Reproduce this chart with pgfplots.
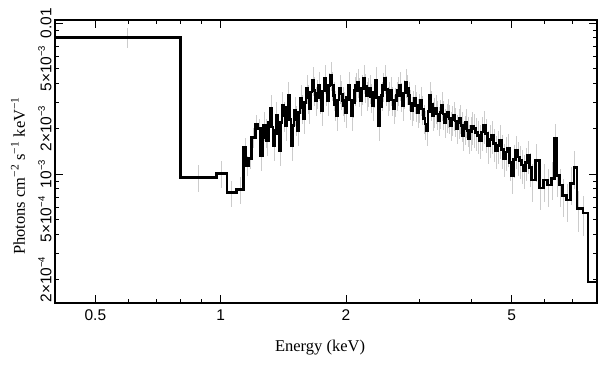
\documentclass[border=0pt]{standalone}
\usepackage{fontspec}
\setmainfont{Liberation Serif}
\newfontfamily\hv{Liberation Sans}
\usepackage{pgfplots}
\pgfplotsset{compat=1.18}
\usepackage{pgfplotstable}
\usetikzlibrary{calc}
\newcommand{\sps}[1]{\raisebox{0.42em}{\fontsize{9.5}{10}\selectfont #1}}
\pgfplotstableread{
x y xc e
0.4 8.076e-3 0.597 0.15
0.8 0.951e-3 0.884 0.2
0.976 1.011e-3 1.005 0.2
1.036 0.756e-3 1.063 0.2
1.091 0.792e-3 1.113 0.2
1.136 1.510e-3 1.143 0.15
1.150 1.147e-3 1.159 0.15
1.168 1.276e-3 1.178 0.15
1.188 1.758e-3 1.200 0.15
1.212 2.143e-3 1.220 0.15
1.228 2.017e-3 1.238 0.15
1.248 1.336e-3 0 0.22
1.258 1.75e-3 0 0.22
1.269 2.111e-3 0 0.22
1.280 1.90e-3 0 0.22
1.291 1.680e-3 0 0.22
1.302 2.20e-3 0 0.22
1.313 2.736e-3 0 0.22
1.324 2.05e-3 0 0.22
1.335 1.556e-3 0 0.22
1.346 1.95e-3 0 0.22
1.357 2.459e-3 0 0.22
1.368 1.85e-3 0 0.22
1.380 1.442e-3 0 0.22
1.391 2.20e-3 0 0.22
1.403 2.864e-3 0 0.22
1.415 2.45e-3 0 0.22
1.427 2.111e-3 0 0.22
1.438 2.75e-3 0 0.22
1.450 3.336e-3 0 0.22
1.462 2.30e-3 0 0.22
1.475 1.556e-3 0 0.22
1.487 2.10e-3 0 0.22
1.500 2.653e-3 0 0.22
1.512 2.30e-3 0 0.22
1.525 1.956e-3 0 0.22
1.537 2.55e-3 0 0.22
1.550 3.187e-3 0 0.22
1.563 2.75e-3 0 0.22
1.576 2.349e-3 0 0.22
1.589 3.00e-3 0 0.22
1.603 3.711e-3 0 0.22
1.616 3.20e-3 0 0.22
1.629 2.736e-3 0 0.22
1.643 3.50e-3 0 0.22
1.657 4.193e-3 0 0.22
1.671 3.60e-3 0 0.22
1.685 3.091e-3 0 0.22
1.699 3.45e-3 0 0.22
1.713 3.886e-3 0 0.22
1.727 3.20e-3 0 0.22
1.742 2.653e-3 0 0.22
1.756 3.55e-3 0 0.22
1.771 4.322e-3 0 0.22
1.785 3.60e-3 0 0.22
1.800 3.091e-3 0 0.22
1.815 3.85e-3 0 0.22
1.831 4.525e-3 0 0.22
1.846 3.90e-3 0 0.22
1.862 3.336e-3 0 0.22
1.877 2.90e-3 0 0.22
1.893 2.459e-3 0 0.22
1.908 3.10e-3 0 0.22
1.924 3.711e-3 0 0.22
1.940 3.40e-3 0 0.22
1.957 3.091e-3 0 0.22
1.973 2.85e-3 0 0.22
1.990 2.574e-3 0 0.22
2.006 3.20e-3 0 0.22
2.023 3.886e-3 0 0.22
2.040 3.10e-3 0 0.22
2.057 2.459e-3 0 0.22
2.074 3.00e-3 0 0.22
2.092 3.600e-3 0 0.22
2.109 3.85e-3 0 0.22
2.127 4.068e-3 0 0.22
2.144 3.55e-3 0 0.22
2.162 3.091e-3 0 0.22
2.180 3.70e-3 0 0.22
2.199 4.322e-3 0 0.22
2.217 3.80e-3 0 0.22
2.236 3.336e-3 0 0.22
2.254 3.55e-3 0 0.22
2.273 3.711e-3 0 0.22
2.292 3.25e-3 0 0.22
2.312 2.864e-3 0 0.22
2.331 3.50e-3 0 0.22
2.350 4.193e-3 0 0.22
2.370 3.20e-3 0 0.22
2.390 2.111e-3 0 0.22
2.410 2.80e-3 0 0.22
2.430 3.336e-3 0 0.22
2.450 3.85e-3 0 0.22
2.471 4.322e-3 0 0.22
2.491 3.65e-3 0 0.22
2.512 3.091e-3 0 0.22
2.533 3.35e-3 0 0.22
2.554 3.600e-3 0 0.22
2.575 3.10e-3 0 0.22
2.597 2.736e-3 0 0.22
2.619 3.05e-3 0 0.22
2.641 3.336e-3 0 0.22
2.663 3.60e-3 0 0.22
2.685 3.886e-3 0 0.22
2.707 3.30e-3 0 0.22
2.730 2.864e-3 0 0.22
2.753 3.45e-3 0 0.22
2.776 4.068e-3 0 0.22
2.799 3.70e-3 0 0.22
2.822 3.336e-3 0 0.22
2.846 2.95e-3 0 0.22
2.870 2.653e-3 0 0.22
2.894 2.90e-3 0 0.22
2.918 3.187e-3 0 0.22
2.942 2.85e-3 0 0.22
2.967 2.574e-3 0 0.22
2.991 2.80e-3 0 0.22
3.016 3.091e-3 0 0.22
3.041 2.70e-3 0 0.22
3.067 2.349e-3 0 0.22
3.093 2.15e-3 0 0.22
3.119 1.956e-3 0 0.22
3.145 2.60e-3 0 0.22
3.171 3.336e-3 0 0.22
3.197 2.90e-3 0 0.22
3.224 2.459e-3 0 0.22
3.251 2.60e-3 0 0.22
3.278 2.736e-3 0 0.22
3.305 2.50e-3 0 0.22
3.333 2.278e-3 0 0.22
3.361 2.55e-3 0 0.22
3.389 2.864e-3 0 0.22
3.417 2.50e-3 0 0.22
3.446 2.210e-3 0 0.22
3.475 2.40e-3 0 0.22
3.504 2.574e-3 0 0.22
3.533 2.35e-3 0 0.22
3.563 2.111e-3 0 0.22
3.592 2.30e-3 0 0.22
3.622 2.459e-3 0 0.22
3.652 2.25e-3 0 0.22
3.683 2.017e-3 0 0.22
3.714 2.20e-3 0 0.22
3.745 2.349e-3 0 0.22
3.776 2.10e-3 0 0.22
3.808 1.812e-3 0 0.22
3.840 2.00e-3 0 0.22
3.872 2.210e-3 0 0.22
3.904 1.95e-3 0 0.22
3.937 1.731e-3 0 0.22
3.970 1.90e-3 0 0.25
4.003 2.079e-3 0 0.25
4.048 2.00e-3 0 0.25
4.093 1.897e-3 0 0.25
4.139 1.80e-3 0 0.25
4.185 1.680e-3 0 0.25
4.232 1.90e-3 0 0.25
4.279 2.111e-3 0 0.25
4.327 1.85e-3 0 0.25
4.375 1.556e-3 0 0.25
4.424 1.70e-3 0 0.25
4.473 1.812e-3 0 0.25
4.523 1.60e-3 0 0.25
4.573 1.442e-3 0 0.25
4.624 1.55e-3 0 0.25
4.676 1.680e-3 0 0.25
4.728 1.45e-3 0 0.25
4.781 1.276e-3 0 0.25
4.834 1.40e-3 0 0.25
4.888 1.486e-3 0 0.25
4.943 1.20e-3 0 0.25
4.998 0.985e-3 0 0.25
5.054 1.25e-3 0 0.25
5.110 1.442e-3 0 0.25
5.167 1.30e-3 0 0.25
5.225 1.238e-3 0 0.25
5.283 1.15e-3 0 0.25
5.342 1.063e-3 0 0.25
5.402 1.20e-3 0 0.25
5.462 1.336e-3 0 0.25
5.523 1.10e-3 0 0.25
5.585 0.913e-3 0 0.28
5.710 1.238e-3 0 0.28
5.839 0.808e-3 0 0.28
5.970 0.913e-3 0 0.28
6.103 0.846e-3 0 0.28
6.241 0.941e-3 0 0.28
6.346 1.731e-3 0 0.25
6.415 0.985e-3 0 0.28
6.523 0.846e-3 0 0.28
6.633 0.726e-3 0 0.28
6.782 0.673e-3 0 0.28
6.934 0.872e-3 0 0.28
7.051 1.113e-3 0 0.28
7.170 0.595e-3 0 0.3
7.412 0.552e-3 0 0.3
7.620 0.193e-3 0 0
8.200 0.193e-3 0 0
}\spec
\begin{document}
\begin{tikzpicture}
\begin{axis}[
  xmode=log, ymode=log,
  scale only axis, width=542pt, height=283pt,
  xmin=0.4, xmax=8.01, ymin=1.40e-4, ymax=1.05e-2,
  axis line style={line width=1.1pt},
  every tick/.style={black, line width=0.9pt},
  tick align=inside,
  major tick length=8pt, minor tick length=4.5pt,
  xtick={0.5,1,2,5}, xticklabels={0.5,1,2,5},
  minor xtick={0.6,0.7,0.8,0.9,3,4,6,7,8},
  ytick={1e-3,1e-2},
  yticklabels={{10\sps{−3}},{0.01}},
  extra y ticks={2e-4,5e-4,2e-3,5e-3},
  extra y tick labels={{2×10\sps{−4}},{5×10\sps{−4}},{2×10\sps{−3}},{5×10\sps{−3}}},
  extra y tick style={major tick length=4.5pt},
  minor ytick={3e-4,4e-4,6e-4,7e-4,8e-4,9e-4,3e-3,4e-3,6e-3,7e-3,8e-3,9e-3},
  tick label style={font=\hv\fontsize{15.5}{18}\selectfont},
  x tick label style={yshift=-3pt},
  y tick label style={rotate=90, anchor=south},
  xlabel={Energy (keV)},
  ylabel={Photons cm\textsuperscript{−2} s\textsuperscript{−1} keV\textsuperscript{−1}},
  label style={font=\fontsize{16.5}{19}\selectfont},
  xlabel style={at={(axis description cs:0.489,-0.159)}, anchor=center},
  ylabel style={at={(axis description cs:-0.068,0.449)}, anchor=center},
]
\addplot[draw=none, forget plot,
  error bars/.cd, y dir=both, y explicit relative, error mark=none,
  error bar style={draw=black!20, line width=0.7pt}]
  table[x expr={\thisrow{xc}>0 ? \thisrow{xc} : \thisrow{x}*1.005}, y=y, y error=e] {\spec};
\addplot[const plot mark left, black, line width=2.8pt] table[x=x, y=y] {\spec};
\end{axis}
\pgfresetboundingbox
\path[use as bounding box] ($(current axis.south west)+(-55pt,-62pt)$) rectangle ($(current axis.north east)+(12pt,20pt)$);
\end{tikzpicture}
\end{document}
